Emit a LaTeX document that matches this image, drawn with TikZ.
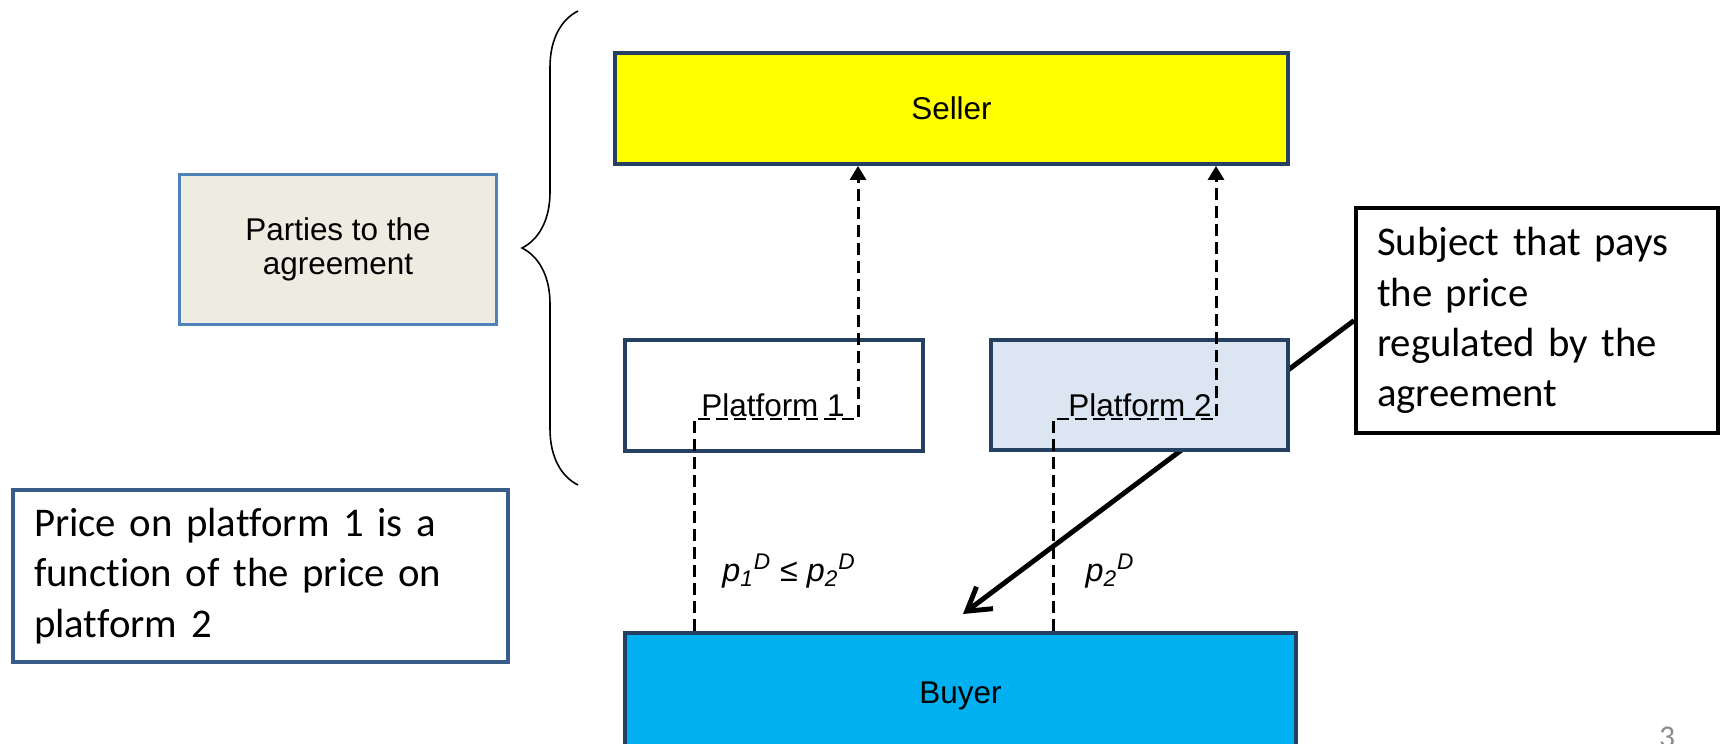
\documentclass[tikz,border=0pt]{standalone}
\usepackage{fontspec}
\setmainfont{Liberation Sans}
\newfontfamily\calibri[Ligatures=CommonOff]{Carlito}
\usetikzlibrary{positioning,arrows.meta,calc,backgrounds,decorations.pathreplacing}
\definecolor{navyedge}{RGB}{38,64,98}
\definecolor{selleryel}{RGB}{255,255,0}
\definecolor{buyercyan}{RGB}{0,176,240}
\definecolor{platblue}{RGB}{220,230,242}
\definecolor{tanbox}{RGB}{238,236,225}
\definecolor{tanedge}{RGB}{79,129,189}
\definecolor{noteedge}{RGB}{56,93,138}
\definecolor{slidegrey}{RGB}{140,140,140}
\tikzset{
  party/.style  ={draw=navyedge, line width=2.2pt, inner sep=0pt,
                  font=\fontsize{17.9}{21}\selectfont},
  ptxt/.style   ={font=\fontsize{17.9}{21}\selectfont, inner sep=0pt, anchor=base},
  note/.style   ={draw, fill=white, line width=2.3pt, align=left, inner xsep=0.42cm,
                  font=\calibri\fontsize{23.2}{28.6}\selectfont},
  flow/.style   ={dash pattern=on 0.24cm off 0.12cm, line width=1.7pt,
                  -{Triangle[length=2.8mm,width=3.2mm]}},
  pay/.style    ={line width=2.8pt, -{Straight Barb[length=4.5mm,width=5.5mm]}},
}

\begin{document}
\begin{tikzpicture}[x=0.02cm,y=0.02cm]
\useasboundingbox (0,0) rectangle (1725,-744);

% the three parties
\node[party,fill=selleryel,minimum width=13.46cm,minimum height=2.22cm] (seller) at (951.5,-108.5) {Seller};
\node[party,fill=white,minimum width=5.96cm,minimum height=2.22cm] (plat1) at (774,-395.5) {};
\node[party,fill=platblue,minimum width=5.94cm,minimum height=2.2cm] (plat2) at (1139.5,-395) {};
\node[party,fill=buyercyan,minimum width=13.42cm,minimum height=2.52cm] (buyer) at (960.5,-696) {Buyer};
\node[ptxt] (plat1lbl) at (773,-416) {Platform 1};
\node[ptxt] (plat2lbl) at (1140,-416) {Platform 2};

% brace and its caption
\node[draw=tanedge,fill=tanbox,line width=1.4pt,align=center,minimum width=6.34cm,minimum height=3cm,
      font=\fontsize{17.9}{19.4}\selectfont] (parties) at (338,-249.5) {Parties to the\\agreement};
\coordinate (brlo) at (578,-485);
\coordinate (brhi) at (578,-11);
\draw[decorate,decoration={brace,amplitude=1.12cm},line width=0.9pt] (brlo) -- (brhi);

% notes
\node[note,draw=black,text width=6.4cm,minimum height=4.5cm] (payer) at (1537,-320.5)
   {Subject that pays\\the price\\regulated by the\\agreement};
\node[note,draw=noteedge,text width=9.06cm,minimum height=3.44cm] (rule) at (260.5,-576)
   {Price on platform 1 is a\\function of the price on\\platform 2};

\coordinate (paid) at (963,-614);
\begin{scope}[on background layer]
\draw[pay] (payer.west) -- (paid);
\end{scope}

% price flows buyer -> platform -> seller
\coordinate (p1lo) at (694,-419);
\coordinate (p1hi) at (858,-419);
\coordinate (p2lo) at (1053,-419);
\coordinate (p2hi) at (1216,-419);
\draw[flow] (p1lo |- buyer.north) -- (p1lo) -- (p1hi) -- (p1hi |- seller.south);
\draw[flow] (p2lo |- buyer.north) -- (p2lo) -- (p2hi) -- (p2hi |- seller.south);

\node[ptxt,font=\fontsize{18.4}{21}\selectfont\itshape] (p1rel) at (789,-581)
   {p\textsubscript{1}\textsuperscript{D} ≤ p\textsubscript{2}\textsuperscript{D}};
\node[ptxt,font=\fontsize{18.4}{21}\selectfont\itshape] (p2rel) at (1110,-581)
   {p\textsubscript{2}\textsuperscript{D}};

\node[font=\calibri\fontsize{18}{20}\selectfont,text=slidegrey,anchor=north,inner sep=0pt] (slidenum) at (1667,-727) {3};
\end{tikzpicture}
\end{document}
